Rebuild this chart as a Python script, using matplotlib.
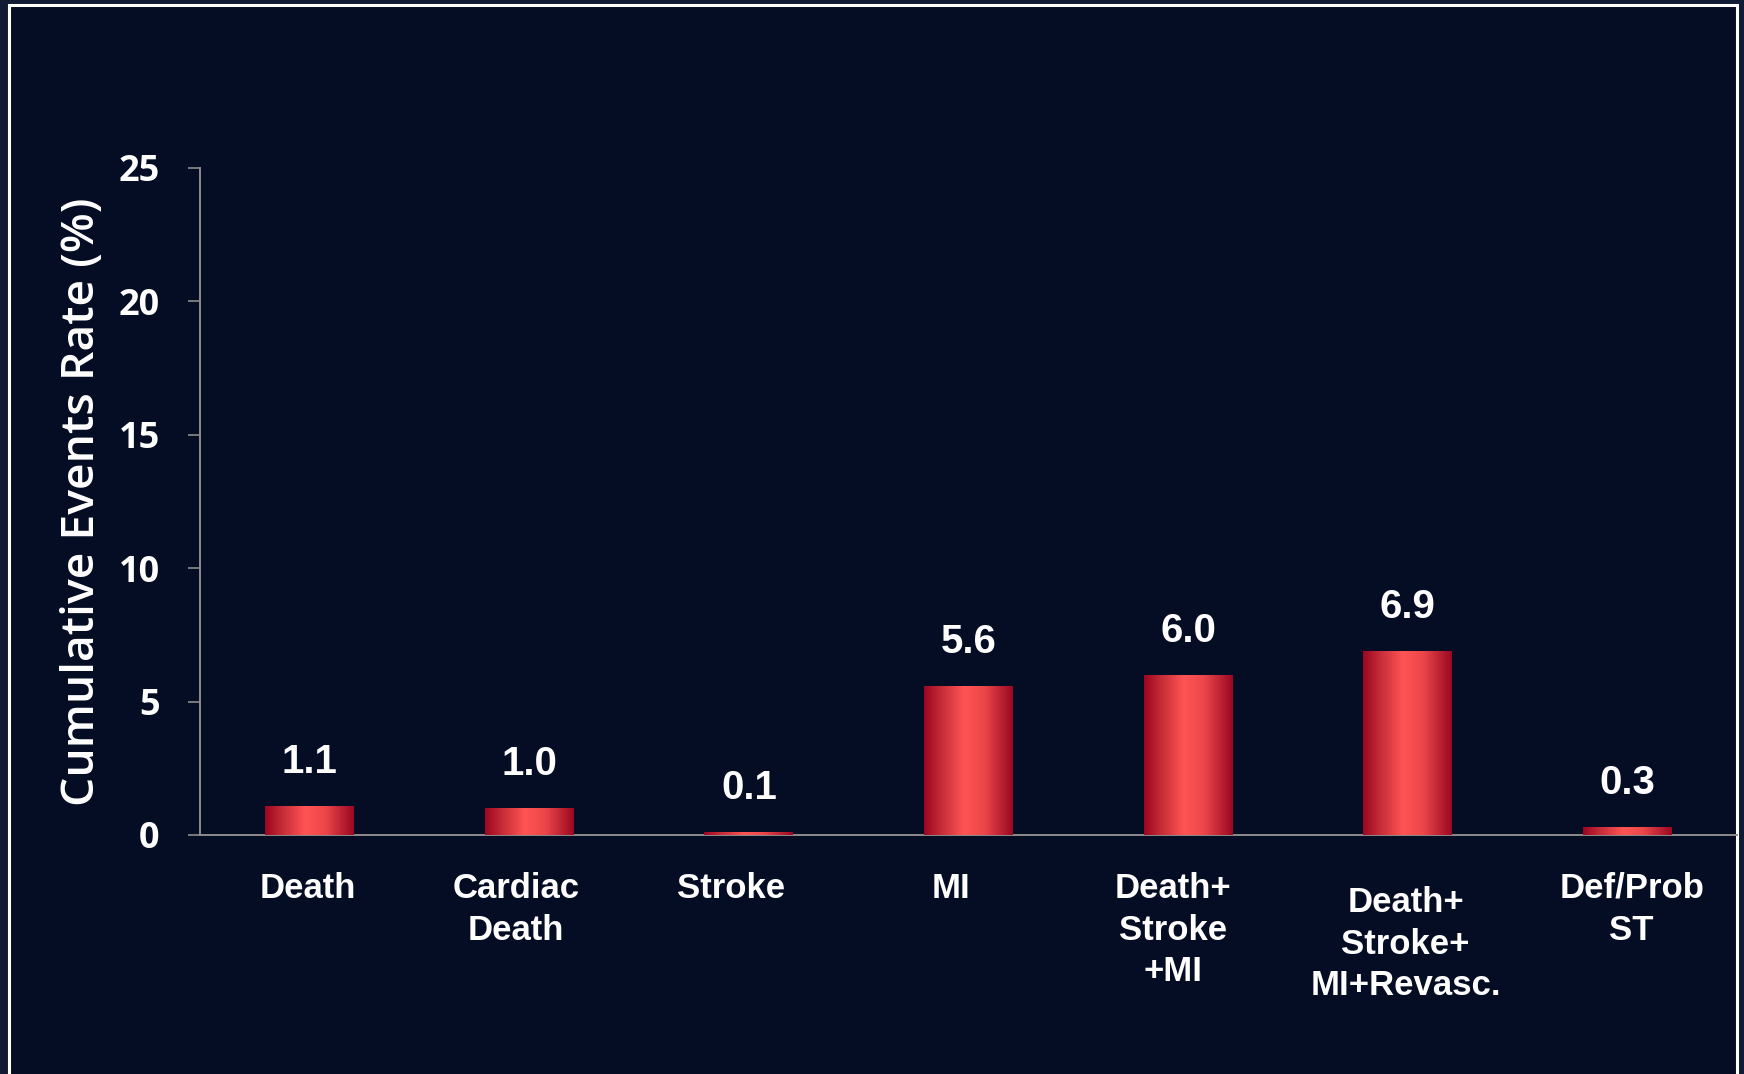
import matplotlib.pyplot as plt
import numpy as np
from matplotlib.colors import LinearSegmentedColormap
from matplotlib.patches import Rectangle
from matplotlib.transforms import ScaledTranslation

# data
categories = ["Death", "Cardiac\nDeath", "Stroke", "MI", "Death+\nStroke\n+MI",
              "Death+\nStroke+\nMI+Revasc.", "Def/Prob\nST"]
rates = [1.1, 1.0, 0.1, 5.6, 6.0, 6.9, 0.3]
value_labels = ["1.1", "1.0", "0.1", "5.6", "6.0", "6.9", "0.3"]
y_ticks = [0, 5, 10, 15, 20, 25]

# small horizontal nudges of the category labels (in bar units) and vertical drops (px)
label_dx = [-0.01, -0.06, -0.08, -0.08, -0.07, -0.01, 0.02]
label_dy = [0, 0, 0, 0, 0, 14, 0]

bg = "#050d24"
outer = "#111b34"

fig = plt.figure(figsize=(17.44, 10.74), dpi=100, facecolor=outer)
# inner panel with white frame
fig.patches.append(Rectangle((9 / 1744, -0.01), (1737 - 9) / 1744, 1 - 5 / 1074 + 0.01,
                             transform=fig.transFigure, facecolor=bg,
                             edgecolor="white", linewidth=2.2, zorder=-5))

ax = fig.add_axes([200 / 1744, 1 - 835 / 1074, (1737 - 200) / 1744, (835 - 168) / 1074])
ax.set_zorder(2)
ax.set_facecolor("none")

x = np.arange(len(categories))
bars = ax.bar(x, rates, width=0.405, color="#e04048", linewidth=0)

cmap = LinearSegmentedColormap.from_list("barred", [
    (0.0, "#9c0620"), (0.18, "#c22a36"), (0.45, "#ff5454"),
    (0.68, "#ec464a"), (1.0, "#9a0822")])
grad = np.linspace(0, 1, 256).reshape(1, -1)
for b in bars:
    x0, w, h = b.get_x(), b.get_width(), b.get_height()
    im = ax.imshow(grad, cmap=cmap, aspect="auto", extent=(x0, x0 + w, 0, h),
                   zorder=3)
    im.set_clip_path(b)

ax.set_xlim(-0.5, len(categories) - 0.5)
ax.set_ylim(0, 25)

for xi, r, lab in zip(x, rates, value_labels):
    ax.annotate(lab, (xi, r), xytext=(0, 18), textcoords="offset points",
                ha="center", va="bottom", color="white", fontsize=29,
                fontweight="bold", family="Liberation Sans")

ax.set_xticks(x)
ax.set_xticklabels([])
ax.tick_params(axis="x", length=0)
for xi, lab, dx, dy in zip(x, categories, label_dx, label_dy):
    ax.text(xi + dx, 0, lab, ha="center", va="top", color="white", fontsize=25,
            fontweight="bold", family="Liberation Sans", linespacing=1.33,
            transform=ax.get_xaxis_transform() +
            ScaledTranslation(0, -(37 + dy) / 100, fig.dpi_scale_trans))

ax.set_yticks(y_ticks)
ax.set_yticklabels([str(t) for t in y_ticks], color="white", fontsize=26,
                   fontweight="bold", family="Open Sans")
ax.tick_params(axis="y", length=9, width=1.2, color="#8c8c8c", pad=20)

ax.set_ylabel("Cumulative Events Rate (%)", color="white", fontsize=33.3,
              family="Open Sans", fontweight="semibold", labelpad=10)

for s in ["top", "right"]:
    ax.spines[s].set_visible(False)
for s in ["left", "bottom"]:
    ax.spines[s].set_color("#8c8c8c")
    ax.spines[s].set_linewidth(1.4)

fig.savefig("out.png", dpi=100, facecolor=outer)
